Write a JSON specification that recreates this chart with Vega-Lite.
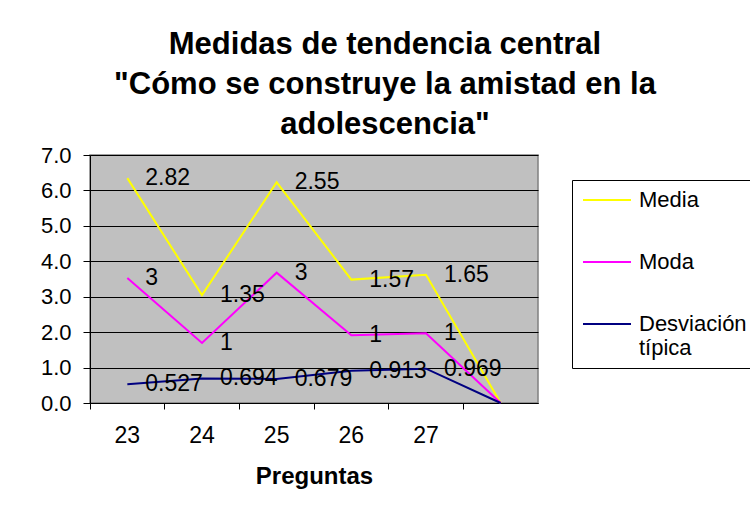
{
  "$schema": "https://vega.github.io/schema/vega-lite/v6.json",
  "width": 448,
  "height": 248,
  "autosize": "none",
  "padding": {"left": 90, "top": 155, "right": 212, "bottom": 108},
  "background": "white",
  "title": {
    "text": ["Medidas de tendencia central", "\"Cómo se construye la amistad en la", "adolescencia\""],
    "font": "Liberation Sans",
    "fontSize": 31,
    "fontWeight": "bold",
    "lineHeight": 40,
    "anchor": "middle",
    "dx": 71,
    "offset": 3,
    "color": "black"
  },
  "config": {
    "view": {"fill": "#C0C0C0", "stroke": "#808080", "strokeWidth": 1.5},
    "font": "Liberation Sans"
  },
  "data": {
    "values": [
      {"q": 23, "series": "Media", "value": 2.82, "k": 3},
      {"q": 23, "series": "Moda", "value": 3, "k": 2},
      {"q": 23, "series": "Desviación típica", "value": 0.527, "k": 1},
      {"q": 24, "series": "Media", "value": 1.35, "k": 3},
      {"q": 24, "series": "Moda", "value": 1, "k": 2},
      {"q": 24, "series": "Desviación típica", "value": 0.694, "k": 1},
      {"q": 25, "series": "Media", "value": 2.55, "k": 3},
      {"q": 25, "series": "Moda", "value": 3, "k": 2},
      {"q": 25, "series": "Desviación típica", "value": 0.679, "k": 1},
      {"q": 26, "series": "Media", "value": 1.57, "k": 3},
      {"q": 26, "series": "Moda", "value": 1, "k": 2},
      {"q": 26, "series": "Desviación típica", "value": 0.913, "k": 1},
      {"q": 27, "series": "Media", "value": 1.65, "k": 3},
      {"q": 27, "series": "Moda", "value": 1, "k": 2},
      {"q": 27, "series": "Desviación típica", "value": 0.969, "k": 1},
      {"q": 28, "series": "Media", "value": 0, "k": 3},
      {"q": 28, "series": "Moda", "value": 0, "k": 2},
      {"q": 28, "series": "Desviación típica", "value": 0, "k": 1}
    ]
  },
  "transform": [
    {"stack": "value", "groupby": ["q"], "sort": [{"field": "k", "order": "ascending"}], "as": ["y0", "y1"]}
  ],
  "encoding": {
    "x": {
      "field": "q",
      "type": "ordinal",
      "scale": {"type": "band", "paddingInner": 0, "paddingOuter": 0},
      "axis": {
        "title": "Preguntas",
        "titleFont": "Liberation Sans",
        "titleFontSize": 24,
        "titleFontWeight": "bold",
        "titleColor": "black",
        "titlePadding": 17,
        "labelAngle": 0,
        "labelFontSize": 23,
        "labelColor": "black",
        "labelFont": "Liberation Sans",
        "labelPadding": 15,
        "labelOffset": 0,
        "labelExpr": "datum.value == 28 ? '' : datum.label",
        "bandPosition": 0,
        "tickSize": 6,
        "tickColor": "black",
        "domainColor": "black",
        "grid": false
      }
    },
    "y": {
      "field": "y1",
      "type": "quantitative",
      "stack": null,
      "scale": {"domain": [0, 7], "nice": false},
      "axis": {
        "title": null,
        "values": [0, 1, 2, 3, 4, 5, 6, 7],
        "format": ".1f",
        "labelFontSize": 22,
        "labelColor": "black",
        "labelFont": "Liberation Sans",
        "labelPadding": 12,
        "tickSize": 7,
        "tickColor": "black",
        "domainColor": "black",
        "grid": true,
        "gridColor": "black",
        "gridOpacity": 1
      }
    }
  },
  "layer": [
    {
      "mark": {"type": "line", "strokeWidth": 2},
      "encoding": {
        "color": {
          "field": "series",
          "type": "nominal",
          "scale": {"domain": ["Media", "Moda", "Desviación típica"], "range": ["#FFFF00", "#FF00FF", "#000080"]},
          "legend": {
            "title": null,
            "orient": "none",
            "legendX": 482,
            "legendY": 25,
            "strokeColor": "black",
            "fillColor": "white",
            "padding": 9,
            "symbolType": "M-2.4,0H2.4",
            "symbolSize": 400,
            "symbolOffset": 15,
            "symbolStrokeWidth": 2,
            "labelFontSize": 22,
            "labelFont": "Liberation Sans",
            "labelColor": "black",
            "labelOffset": 21,
            "rowPadding": 40,
            "labelLimit": 300,
            "labelExpr": "datum.label == 'Desviación típica' ? ['Desviación', 'típica'] : datum.label"
          }
        }
      }
    },
    {
      "transform": [{"filter": "datum.q != 28"}],
      "mark": {"type": "text", "align": "left", "baseline": "middle", "dx": 18, "fontSize": 23, "font": "Liberation Sans", "color": "black"},
      "encoding": {
        "text": {"field": "value", "type": "quantitative"}
      }
    }
  ]
}
